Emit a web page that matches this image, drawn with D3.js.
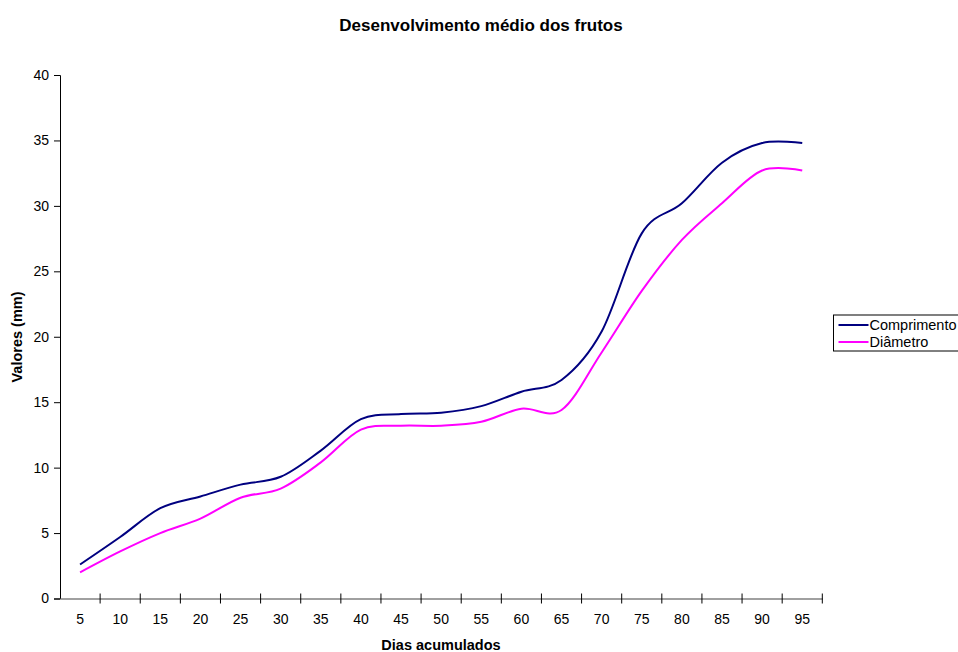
<!DOCTYPE html>
<html>
<head>
<meta charset="utf-8">
<script src="https://cdn.jsdelivr.net/npm/d3@7"></script>
<style>
  body { margin: 0; background: #ffffff; }
  svg { font-family: Arial, "Liberation Sans", sans-serif; }
</style>
</head>
<body>
<div id="graf"></div>
<script>
// Desenvolvimento médio dos frutos - linhas suavizadas

// dados
dias = ['5','10','15','20','25','30','35','40','45','50','55','60','65','70','75','80','85','90','95']
comprimento = [2.6, 4.7, 6.9, 7.8, 8.7, 9.3, 11.3, 13.7, 14.1, 14.2, 14.7, 15.8, 16.7, 20.4, 27.9, 30.2, 33.3, 34.8, 34.8]
diametro    = [2.0, 3.6, 5.0, 6.1, 7.7, 8.4, 10.4, 12.9, 13.2, 13.2, 13.5, 14.5, 14.4, 18.8, 23.5, 27.4, 30.2, 32.7, 32.7]
valoresY = [0, 5, 10, 15, 20, 25, 30, 35, 40]
series = ['Comprimento', 'Diâmetro']
cores = ['#000080', '#ff00ff']

ancho_total = 958
alto_total = 652
area = { left: 60, right: 822.3, top: 75, bottom: 598.5 }

svg = d3.select('#graf').append('svg')
        .attr('width', ancho_total)
        .attr('height', alto_total)

// escalas
x = d3.scaleBand()
      .domain(dias)
      .range([area.left, area.right])
      .padding(0)
y = d3.scaleLinear()
      .domain([0, 40])
      .range([area.bottom, area.top])
cor = d3.scaleOrdinal().domain(series).range(cores)

xc = d => x(d) + x.bandwidth() / 2

// eixo Y
yAxis = svg.append('g')
        .attr('transform', `translate(${area.left},0)`)
        .call(d3.axisLeft(y).tickValues(valoresY).tickSize(6).tickPadding(5))
yAxis.select('.domain').attr('stroke', '#000')
yAxis.selectAll('.tick line').attr('stroke', '#000')
yAxis.selectAll('.tick text').attr('font-size', '14px').attr('fill', '#000')

// eixo X (rótulos no centro das categorias)
xAxis = svg.append('g')
        .attr('transform', `translate(0,${area.bottom})`)
        .call(d3.axisBottom(x).tickSize(0).tickPadding(16))
xAxis.select('.domain').attr('stroke', '#808080').attr('stroke-width', 1.3)
xAxis.selectAll('.tick text').attr('font-size', '14px').attr('fill', '#000')

// marcas entre categorias
limites = dias.map(d => x(d)).concat([x.range()[1]])
svg.append('g').selectAll('line')
   .data(limites.slice(1))
   .join('line')
   .attr('x1', d => d).attr('x2', d => d)
   .attr('y1', area.bottom - 5).attr('y2', area.bottom + 5)
   .attr('stroke', '#000')
   .attr('stroke-width', 1)

// linhas
linhaGen = d3.line()
        .x((d, i) => xc(dias[i]))
        .y(d => y(d))
        .curve(d3.curveCardinal.tension(0))

svg.append('path')
   .attr('d', linhaGen(comprimento))
   .attr('fill', 'none')
   .attr('stroke', cor('Comprimento'))
   .attr('stroke-width', 2)
svg.append('path')
   .attr('d', linhaGen(diametro))
   .attr('fill', 'none')
   .attr('stroke', cor('Diâmetro'))
   .attr('stroke-width', 2)

// títulos
svg.append('text')
   .attr('x', 481).attr('y', 31)
   .attr('text-anchor', 'middle')
   .attr('font-size', '17px').attr('font-weight', 'bold')
   .text('Desenvolvimento médio dos frutos')

svg.append('text')
   .attr('x', 441).attr('y', 650)
   .attr('text-anchor', 'middle')
   .attr('font-size', '14.5px').attr('font-weight', 'bold')
   .text('Dias acumulados')

svg.append('text')
   .attr('transform', 'translate(22,337) rotate(-90)')
   .attr('text-anchor', 'middle')
   .attr('font-size', '14.5px').attr('font-weight', 'bold')
   .text('Valores (mm)')

// legenda
leg = svg.append('g').attr('transform', 'translate(833.5,315)')
leg.append('rect')
   .attr('width', 140).attr('height', 36)
   .attr('fill', '#fff').attr('stroke', '#000')
series.forEach((s, i) => {
  g = leg.append('g').attr('transform', `translate(0,${10 + i * 17})`)
  g.append('line')
   .attr('x1', 5).attr('x2', 35)
   .attr('stroke', cor(s)).attr('stroke-width', 2)
  g.append('text')
   .attr('x', 36).attr('y', 5)
   .attr('font-size', '14.5px')
   .text(s)
})
</script>
</body>
</html>
